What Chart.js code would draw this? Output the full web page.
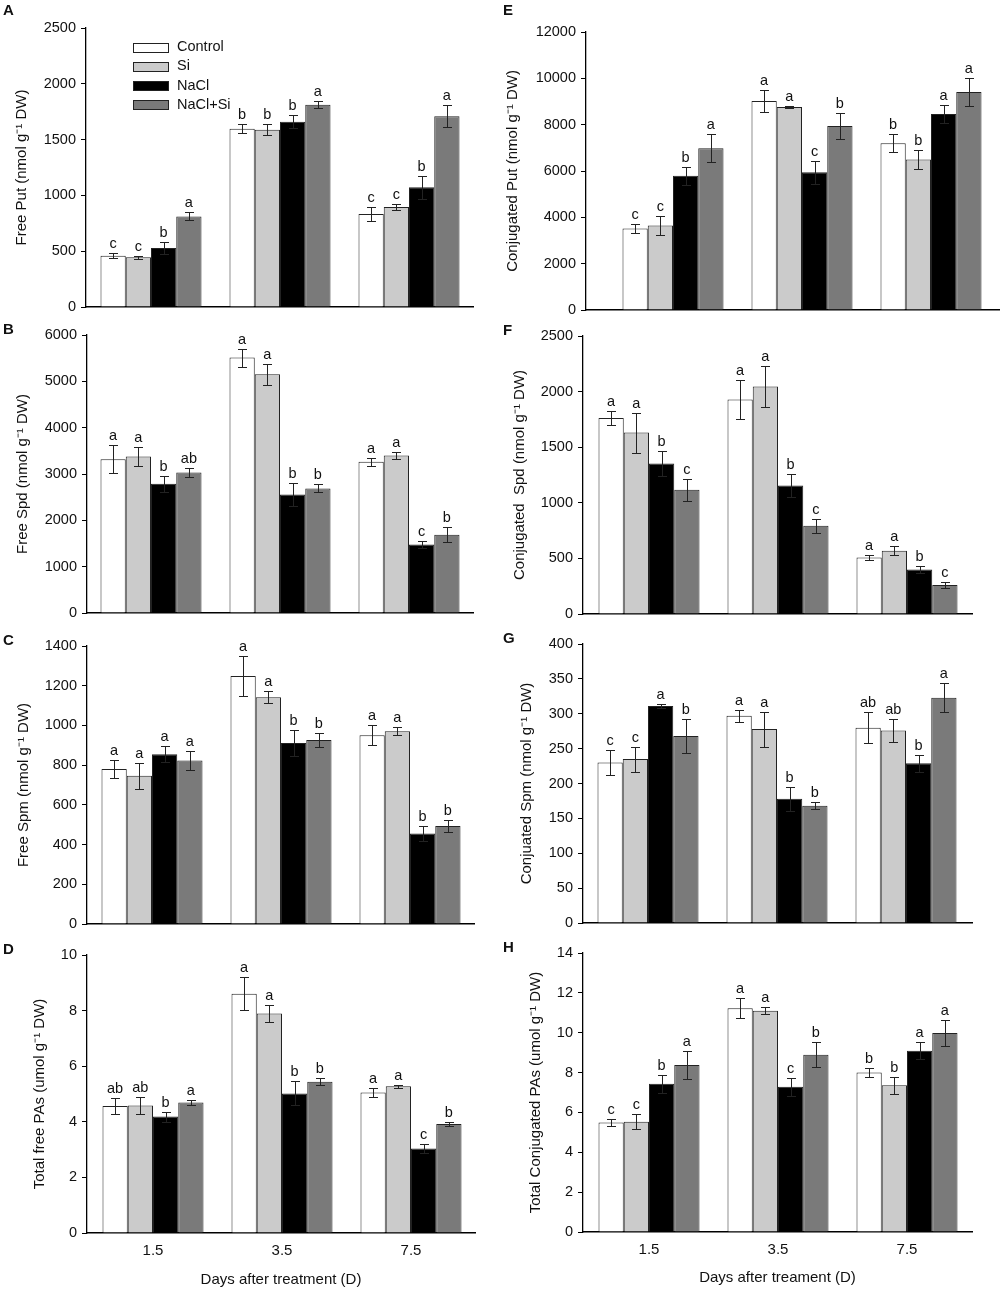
<!DOCTYPE html>
<html lang="en">
<head>
  <meta charset="UTF-8">
  <title>Free and conjugated polyamines</title>
  <script src="https://cdn.jsdelivr.net/npm/chart.js"></script>
  <style>
    body { margin: 0; background: #fff; font-family: 'Liberation Sans', Arial, sans-serif; }
    #page { position: relative; width: 1000px; height: 1291px; overflow: hidden; }
    #page canvas { position: absolute; }
    .tag { position: absolute; font-weight: bold; font-size: 15px; line-height: 15px; color: #111; }
  </style>
</head>
<body>
<div id="page"></div>

<script>
  // categories and series
  const days = ['1.5', '3.5', '7.5'];
  const treatments = ['Control', 'Si', 'NaCl', 'NaCl+Si'];
  const fills = ['#ffffff', '#cbcbcb', '#000000', '#7a7a7a'];

  // rows = treatments (Control, Si, NaCl, NaCl+Si), columns = days
  const freePut    = [[460, 1598, 833], [445, 1589, 896], [529, 1661, 1072], [812, 1813, 1709]];
  const freePutErr = [[20, 40, 63], [15, 52, 24], [55, 57, 102], [35, 33, 100]];
  const freePutSig = [['c', 'b', 'c'], ['c', 'b', 'c'], ['b', 'b', 'b'], ['a', 'a', 'a']];

  const freeSpd    = [[3320, 5512, 3262], [3377, 5152, 3399], [2788, 2558, 1480], [3033, 2688, 1689]];
  const freeSpdErr = [[300, 195, 94], [215, 230, 72], [175, 245, 80], [105, 86, 158]];
  const freeSpdSig = [['a', 'a', 'a'], ['a', 'a', 'a'], ['b', 'b', 'c'], ['ab', 'b', 'b']];

  const freeSpm    = [[780, 1249, 951], [746, 1142, 971], [855, 912, 456], [823, 927, 493]];
  const freeSpmErr = [[45, 100, 50], [65, 30, 20], [40, 65, 39], [49, 35, 32]];
  const freeSpmSig = [['a', 'a', 'a'], ['a', 'a', 'a'], ['a', 'b', 'b'], ['a', 'b', 'b']];

  const totalFree    = [[4.57, 8.61, 5.05], [4.59, 7.90, 5.28], [4.19, 5.02, 3.04], [4.69, 5.44, 3.92]];
  const totalFreeErr = [[0.30, 0.60, 0.15], [0.30, 0.31, 0.05], [0.18, 0.43, 0.17], [0.10, 0.13, 0.06]];
  const totalFreeSig = [['ab', 'a', 'a'], ['ab', 'a', 'a'], ['b', 'b', 'c'], ['a', 'b', 'b']];

  const conjPut    = [[3515, 9018, 7203], [3645, 8759, 6497], [5791, 5950, 8456], [6987, 7938, 9407]];
  const conjPutErr = [[190, 475, 400], [400, 45, 400], [400, 500, 400], [620, 560, 620]];
  const conjPutSig = [['c', 'a', 'b'], ['c', 'a', 'b'], ['b', 'c', 'a'], ['a', 'b', 'a']];

  const conjSpd    = [[1763, 1928, 509], [1632, 2045, 569], [1353, 1156, 401], [1117, 793, 260]];
  const conjSpdErr = [[63, 177, 21], [180, 186, 39], [114, 104, 33], [99, 63, 27]];
  const conjSpdSig = [['a', 'a', 'a'], ['a', 'a', 'a'], ['b', 'b', 'b'], ['c', 'c', 'c']];

  const conjSpm    = [[230, 297, 280], [235, 278, 276], [311, 178, 229], [268, 168, 323]];
  const conjSpmErr = [[18, 9, 22], [18, 25, 16], [3, 17, 12], [24, 5, 21]];
  const conjSpmSig = [['c', 'a', 'ab'], ['c', 'a', 'ab'], ['a', 'b', 'b'], ['b', 'b', 'a']];

  const totalConj    = [[5.50, 11.23, 8.00], [5.53, 11.10, 7.36], [7.44, 7.29, 9.09], [8.38, 8.90, 9.98]];
  const totalConjErr = [[0.18, 0.49, 0.22], [0.38, 0.18, 0.42], [0.44, 0.45, 0.42], [0.69, 0.62, 0.67]];
  const totalConjSig = [['c', 'a', 'b'], ['c', 'a', 'b'], ['b', 'c', 'a'], ['a', 'b', 'a']];

  // panel layout (page pixels): plot area l/r/t/b, first group centre c0, y title centre
  const panels = [
    { tag: 'A', mean: freePut, err: freePutErr, sig: freePutSig, yMax: 2500, yStep: 500,
      yTitle: 'Free Put (nmol g\u207B\u00B9 DW)', col: 0, l: 86, r: 473, t: 28, b: 307, c0: 151, titleX: 22, legend: true },
    { tag: 'B', mean: freeSpd, err: freeSpdErr, sig: freeSpdSig, yMax: 6000, yStep: 1000,
      yTitle: 'Free Spd (nmol g\u207B\u00B9 DW)', col: 0, l: 87, r: 473, t: 335, b: 613, c0: 151, titleX: 23 },
    { tag: 'C', mean: freeSpm, err: freeSpmErr, sig: freeSpmSig, yMax: 1400, yStep: 200,
      yTitle: 'Free Spm (nmol g\u207B\u00B9 DW)', col: 0, l: 87, r: 474, t: 646, b: 924, c0: 152, titleX: 24 },
    { tag: 'D', mean: totalFree, err: totalFreeErr, sig: totalFreeSig, yMax: 10, yStep: 2,
      yTitle: 'Total free PAs (umol g\u207B\u00B9 DW)', col: 0, l: 87, r: 475, t: 955, b: 1233, c0: 153, titleX: 40,
      xTitle: 'Days after treatment (D)', xTitleY: 1280 },
    { tag: 'E', mean: conjPut, err: conjPutErr, sig: conjPutSig, yMax: 12000, yStep: 2000,
      yTitle: 'Conjugated Put (nmol g\u207B\u00B9 DW)', col: 1, l: 586, r: 1000, t: 32, b: 310, c0: 673, titleX: 513 },
    { tag: 'F', mean: conjSpd, err: conjSpdErr, sig: conjSpdSig, yMax: 2500, yStep: 500,
      yTitle: 'Conjugated  Spd (nmol g\u207B\u00B9 DW)', col: 1, l: 583, r: 972, t: 336, b: 614, c0: 649, titleX: 520 },
    { tag: 'G', mean: conjSpm, err: conjSpmErr, sig: conjSpmSig, yMax: 400, yStep: 50,
      yTitle: 'Conjuated Spm (nmol g\u207B\u00B9 DW)', col: 1, l: 583, r: 972, t: 644, b: 923, c0: 648, titleX: 527 },
    { tag: 'H', mean: totalConj, err: totalConjErr, sig: totalConjSig, yMax: 14, yStep: 2,
      yTitle: 'Total Conjugated PAs (umol g\u207B\u00B9 DW)', col: 1, l: 583, r: 972, t: 953, b: 1232, c0: 649, titleX: 536,
      xTitle: 'Days after treament (D)', xTitleY: 1278 }
  ];

  const FONT = "'Liberation Sans', Arial, sans-serif";
  const STEP = 129;      // px between day groups
  const PAGE_H = 1291;

  // error bars + significance letters
  const errorBars = {
    id: 'errorBars',
    afterDatasetsDraw(chart) {
      const ctx = chart.ctx;
      const y = chart.scales.y;
      ctx.save();
      ctx.strokeStyle = '#222';
      ctx.lineWidth = 1;
      ctx.fillStyle = '#111';
      ctx.font = '14.5px ' + FONT;
      ctx.textAlign = 'center';
      ctx.textBaseline = 'alphabetic';
      chart.data.datasets.forEach((ds, i) => {
        chart.getDatasetMeta(i).data.forEach((bar, j) => {
          const v = ds.data[j].y, e = ds.err[j];
          const hi = Math.round(y.getPixelForValue(v + e)) + 0.5;
          const lo = Math.round(y.getPixelForValue(v - e)) + 0.5;
          const x = Math.round(bar.x) + 0.5;
          ctx.beginPath();
          ctx.moveTo(x, hi); ctx.lineTo(x, lo);
          ctx.moveTo(x - 4.5, hi); ctx.lineTo(x + 4.5, hi);
          ctx.moveTo(x - 4.5, lo); ctx.lineTo(x + 4.5, lo);
          ctx.stroke();
          ctx.fillText(ds.sig[j], bar.x, hi - 6);
        });
      });
      ctx.restore();
    }
  };

  // boxed legend inside panel A
  const boxLegend = {
    id: 'boxLegend',
    afterDraw(chart, args, opts) {
      if (!opts.show) return;
      const ctx = chart.ctx;
      const { left, top } = chart.chartArea;
      ctx.save();
      ctx.font = '14.5px ' + FONT;
      ctx.textBaseline = 'middle';
      ctx.textAlign = 'left';
      chart.data.datasets.forEach((ds, i) => {
        const cy = top + 19 + i * 19.3;
        const bx = left + 47;
        ctx.fillStyle = ds.backgroundColor;
        ctx.fillRect(bx, Math.round(cy - 4.5), 35, 9);
        ctx.strokeStyle = '#222';
        ctx.lineWidth = 1;
        ctx.strokeRect(bx + 0.5, Math.round(cy - 4.5) + 0.5, 35, 9);
        ctx.fillStyle = '#111';
        ctx.fillText(ds.label, bx + 44, cy);
      });
      ctx.restore();
    }
  };

  const page = document.getElementById('page');

  panels.forEach(p => {
    const cx = p.col * 500, cw = 500;
    const isBottom = !!p.xTitle;
    const cy = Math.max(0, p.t - 35);
    const ch = isBottom ? PAGE_H - cy : p.b + 20 - cy;
    const xH = isBottom ? p.xTitleY + 9 - p.b : 15;
    const scaleLeft = p.titleX - 9;
    const yW = p.l - scaleLeft;

    const canvas = document.createElement('canvas');
    canvas.width = cw;
    canvas.height = ch;
    canvas.style.left = cx + 'px';
    canvas.style.top = cy + 'px';
    page.appendChild(canvas);

    const tag = document.createElement('div');
    tag.className = 'tag';
    tag.textContent = p.tag;
    tag.style.left = (cx + 3) + 'px';
    tag.style.top = (p.t < 100 ? 2 : p.t - 14) + 'px';
    page.appendChild(tag);

    const datasets = treatments.map((name, i) => ({
      label: name,
      data: days.map((d, j) => ({ x: j, y: p.mean[i][j] })),
      err: p.err[i],
      sig: p.sig[i],
      backgroundColor: fills[i],
      borderColor: '#222',
      borderWidth: 1,
      borderSkipped: 'start',
      categoryPercentage: 0.783,
      barPercentage: 1.0
    }));

    new Chart(canvas, {
      type: 'bar',
      data: { datasets },
      options: {
        responsive: false,
        animation: false,
        events: [],
        layout: {
          padding: {
            left: scaleLeft - cx,
            right: cx + cw - p.r,
            top: p.t - cy,
            bottom: cy + ch - p.b - xH
          }
        },
        plugins: {
          legend: { display: false },
          tooltip: { enabled: false },
          boxLegend: { show: !!p.legend }
        },
        scales: {
          x: {
            type: 'linear',
            offset: false,
            min: (p.l - p.c0) / STEP,
            max: (p.r - p.c0) / STEP,
            afterBuildTicks: s => { s.ticks = days.map((d, j) => ({ value: j })); },
            afterFit: s => { s.height = xH; },
            grid: { display: false, drawTicks: false, offset: false },
            border: { display: true, color: '#000', width: 1.5 },
            ticks: {
              display: isBottom,
              padding: 9,
              color: '#111',
              font: { family: FONT, size: 15 },
              callback: v => days[v] ?? ''
            },
            title: {
              display: isBottom,
              text: p.xTitle || '',
              color: '#111',
              padding: 0,
              font: { family: FONT, size: 15 }
            }
          },
          y: {
            min: 0,
            max: p.yMax,
            afterFit: s => { s.width = yW; },
            grid: { drawOnChartArea: false, drawTicks: true, tickLength: 5, color: '#000', lineWidth: 1 },
            border: { display: true, color: '#000', width: 1.3 },
            ticks: {
              stepSize: p.yStep,
              padding: 5,
              color: '#111',
              font: { family: FONT, size: 14.5 },
              callback: v => String(v)
            },
            title: {
              display: true,
              text: p.yTitle,
              color: '#111',
              padding: 0,
              font: { family: FONT, size: 15 }
            }
          }
        }
      },
      plugins: [errorBars, boxLegend]
    });
  });
</script>
</body>
</html>
